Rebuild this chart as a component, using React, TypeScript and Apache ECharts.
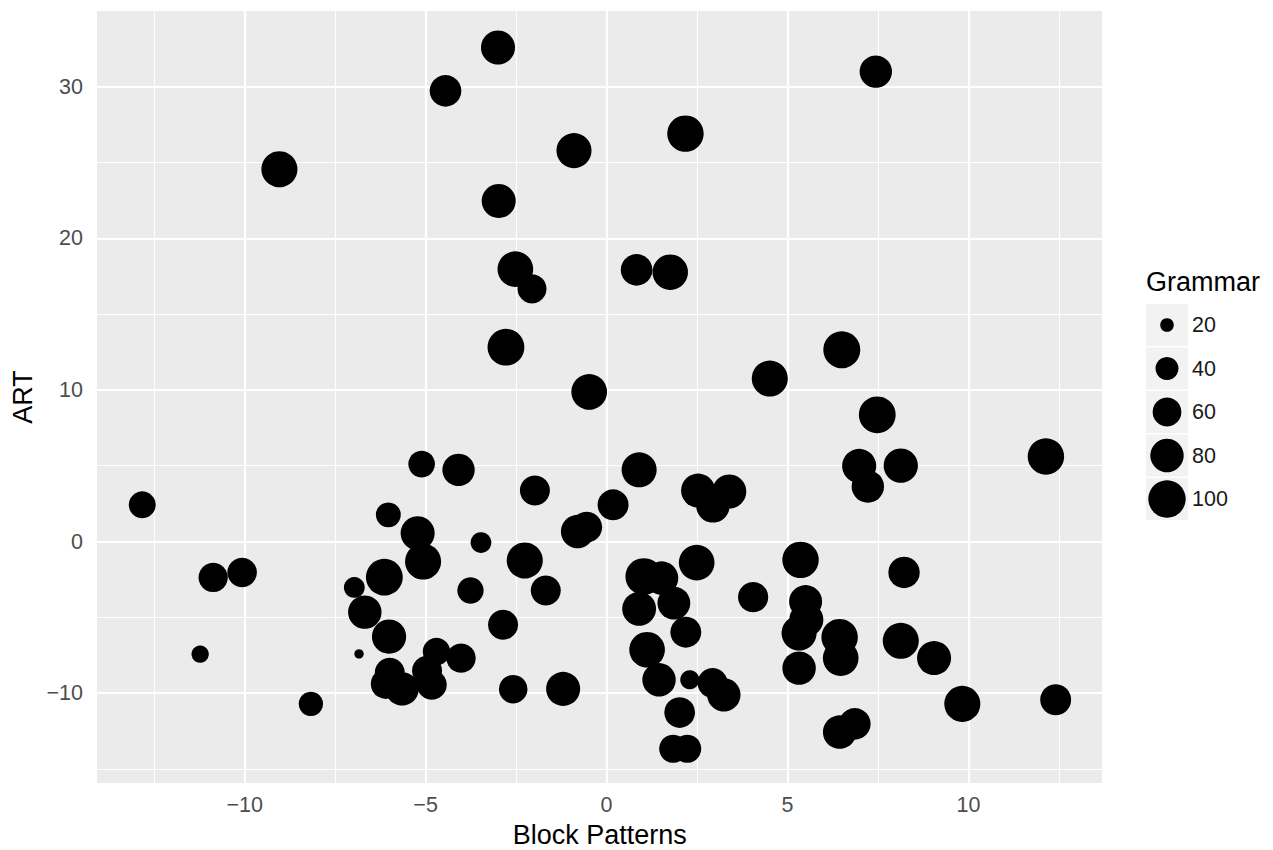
import React, { useEffect, useRef } from "react";
import * as echarts from "echarts";

// Data: Block Patterns (x), ART (y), Grammar (size)
const blockPatterns = [
  -3.0, -4.45, 7.44, -9.04, -0.9, 2.18, -2.98, -2.52, -2.06, 0.83,
  1.76, -2.78, -0.48, 4.51, 6.5, 7.48, 12.14, 6.98, 8.13, 7.22,
  -5.11, -4.09, -1.98, 0.9, 2.53, 3.39, 2.94, 0.18, -0.8, -0.55,
  -12.83, -6.03, -5.22, -5.07, -3.47, -2.26, -6.14, -6.97, -3.76, -1.68,
  -10.87, -10.07, -6.68, -6.01, -2.86, -6.84, -11.23, -4.7, -4.02, -5.99,
  -6.1, -5.65, -4.96, -4.83, -8.17, -2.58, -1.2, 2.49, 1.03, 1.52,
  0.9, 1.86, 2.19, 1.12, 1.45, 2.3, 2.93, 3.24, 2.02, 1.84,
  2.23, 4.05, 5.36, 5.5, 5.52, 5.32, 6.44, 6.47, 5.32, 6.44,
  6.86, 8.13, 9.05, 8.22, 9.83, 12.41,
];
const art = [
  32.59, 29.73, 31.0, 24.56, 25.79, 26.91, 22.47, 17.97, 16.67, 17.92,
  17.77, 12.82, 9.87, 10.75, 12.65, 8.36, 5.61, 4.99, 5.01, 3.63,
  5.11, 4.73, 3.36, 4.73, 3.36, 3.3, 2.35, 2.42, 0.66, 0.95,
  2.42, 1.76, 0.55, -1.32, -0.07, -1.25, -2.35, -3.03, -3.23, -3.23,
  -2.37, -2.04, -4.66, -6.27, -5.49, -7.41, -7.43, -7.26, -7.69, -8.66,
  -9.39, -9.72, -8.53, -9.45, -10.71, -9.74, -9.72, -1.39, -2.31, -2.41,
  -4.44, -4.06, -5.98, -7.14, -9.12, -9.12, -9.34, -10.11, -11.28, -13.67,
  -13.67, -3.67, -1.21, -3.96, -5.16, -6.04, -6.31, -7.69, -8.35, -12.57,
  -12.03, -6.55, -7.69, -2.04, -10.71, -10.44,
];
const grammar = [
  83, 72, 75, 93, 88, 95, 83, 91, 61, 72,
  90, 97, 91, 93, 98, 97, 95, 83, 84, 75,
  52, 75, 65, 88, 83, 83, 80, 69, 80, 69,
  53, 46, 83, 93, 34, 93, 97, 34, 51, 65,
  62, 63, 80, 84, 65, 16, 26, 55, 62, 65,
  65, 80, 65, 65, 44, 59, 83, 91, 97, 80,
  82, 77, 69, 91, 80, 30, 65, 80, 68, 57,
  57, 66, 95, 78, 83, 88, 95, 91, 80, 80,
  72, 93, 83, 71, 93, 69,
];

const xTicks = [-10, -5, 0, 5, 10];
const xMinor = [-12.5, -7.5, -2.5, 2.5, 7.5, 12.5];
const yTicks = [-10, 0, 10, 20, 30];
const yMinor = [-15, -5, 5, 15, 25];
const legendValues = [20, 40, 60, 80, 100];

const xTitle = "Block Patterns";
const yTitle = "ART";
const sizeTitle = "Grammar";

const FONT = "'Liberation Sans', Arial, Helvetica, sans-serif";

function sizeFn(g: number): number {
  return 6 + 3.4 * Math.sqrt(Math.max(g - 15, 0));
}

function fmt(v: number): string {
  return String(v).replace("-", "\u2212");
}

export default function App() {
  const ref = useRef<HTMLDivElement>(null);

  useEffect(() => {
    if (!ref.current) return;
    const chart = echarts.init(ref.current, undefined, { renderer: "svg" });

    const points = blockPatterns.map((x, i) => [x, art[i], grammar[i]]);

    const gridLines: any[] = [
      ...xMinor.map((v) => ({ xAxis: v, lineStyle: { width: 1.1 } })),
      ...yMinor.map((v) => ({ yAxis: v, lineStyle: { width: 1.1 } })),
      ...xTicks.map((v) => ({ xAxis: v, lineStyle: { width: 2.2 } })),
      ...yTicks.map((v) => ({ yAxis: v, lineStyle: { width: 2.2 } })),
    ];

    const legendX = 1146;
    const legendTop = 304;
    const keySize = 42;
    const keyStep = 43.5;

    const legendGraphics: any[] = [
      {
        type: "text",
        left: legendX,
        top: 268,
        style: {
          text: sizeTitle,
          fontSize: 27,
          fontFamily: FONT,
          fill: "#000",
        },
      },
    ];
    legendValues.forEach((v, i) => {
      const top = legendTop + i * keyStep;
      legendGraphics.push({
        type: "rect",
        shape: { x: legendX, y: top, width: keySize, height: keySize },
        style: { fill: "#F2F2F2" },
      });
      legendGraphics.push({
        type: "circle",
        shape: { cx: legendX + keySize / 2, cy: top + keySize / 2, r: sizeFn(v) / 2 },
        style: { fill: "#000" },
      });
      legendGraphics.push({
        type: "text",
        x: legendX + keySize + 4,
        y: top + keySize / 2,
        style: {
          text: String(v),
          fontSize: 21.5,
          fontFamily: FONT,
          fill: "#1A1A1A",
          align: "left",
          verticalAlign: "middle",
        },
      });
    });

    chart.setOption({
      animation: false,
      backgroundColor: "#FFFFFF",
      grid: {
        left: 97,
        top: 11,
        width: 1005,
        height: 772,
        show: true,
        backgroundColor: "#EBEBEB",
        borderWidth: 0,
        containLabel: false,
      },
      xAxis: {
        type: "value",
        min: -14.08,
        max: 13.69,
        axisLine: { show: false },
        splitLine: { show: false },
        axisTick: {
          show: true,
          customValues: xTicks,
          length: 7,
          lineStyle: { color: "#333333", width: 2 },
        },
        axisLabel: {
          customValues: xTicks,
          margin: 11,
          color: "#4D4D4D",
          fontSize: 21.5,
          fontFamily: FONT,
          formatter: (v: number) => fmt(v),
        },
      },
      yAxis: {
        type: "value",
        min: -15.93,
        max: 35.0,
        axisLine: { show: false },
        splitLine: { show: false },
        axisTick: {
          show: true,
          customValues: yTicks,
          length: 7,
          lineStyle: { color: "#333333", width: 2 },
        },
        axisLabel: {
          customValues: yTicks,
          margin: 14,
          color: "#4D4D4D",
          fontSize: 21.5,
          fontFamily: FONT,
          formatter: (v: number) => fmt(v),
        },
      },
      graphic: [
        {
          type: "text",
          x: 599.7,
          y: 835,
          style: {
            text: xTitle,
            fontSize: 27,
            fontFamily: FONT,
            fill: "#000",
            align: "center",
            verticalAlign: "middle",
          },
        },
        {
          type: "text",
          x: 22.5,
          y: 397,
          rotation: Math.PI / 2,
          style: {
            text: yTitle,
            fontSize: 27,
            fontFamily: FONT,
            fill: "#000",
            align: "center",
            verticalAlign: "middle",
          },
        },
        ...legendGraphics,
      ],
      series: [
        {
          type: "scatter",
          data: [],
          silent: true,
          z: 1,
          markLine: {
            silent: true,
            z: 1,
            symbol: ["none", "none"],
            label: { show: false },
            lineStyle: { color: "#FFFFFF", type: "solid", width: 2.2 },
            emphasis: { disabled: true },
            data: gridLines,
          },
        },
        {
          type: "scatter",
          z: 3,
          data: points,
          symbol: "circle",
          symbolSize: (val: number[]) => sizeFn(val[2]),
          itemStyle: { color: "#000000", opacity: 1 },
          emphasis: { disabled: true },
        },
      ],
    });

    return () => chart.dispose();
  }, []);

  return (
    <div
      ref={ref}
      style={{ position: "fixed", left: 0, top: 0, width: 1273, height: 850 }}
    />
  );
}
